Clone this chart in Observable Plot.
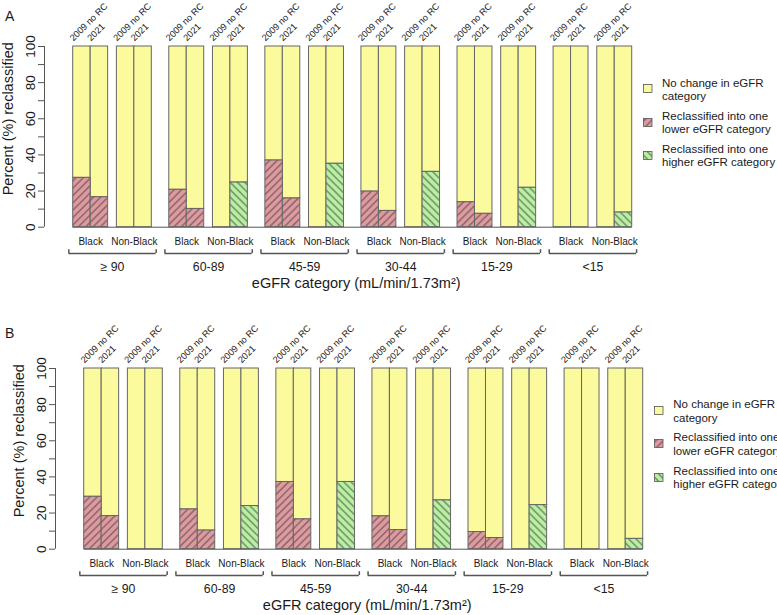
<!DOCTYPE html>
<html><head><meta charset="utf-8">
<script src="https://cdn.jsdelivr.net/npm/d3@7"></script>
<script src="https://cdn.jsdelivr.net/npm/@observablehq/plot@0.6"></script>
<style>
body{margin:0;background:#fff;}
#page{position:relative;width:777px;height:615px;overflow:hidden;background:#fff;font-family:"Liberation Sans",Arial,sans-serif;color:#1a1a1a;}
.panel{position:absolute;width:777px;height:300px;}
.panel svg.chart{position:absolute;left:0;top:0;}
.letter{position:absolute;font-size:14px;line-height:14px;}
.lg-sw{position:absolute;}
.lg-tx{position:absolute;font-size:11.5px;line-height:13.3px;white-space:nowrap;color:#1a1a1a;}
</style></head><body>
<svg width="0" height="0" style="position:absolute;left:0;top:0">
  <defs>
    <pattern id="hatchLower" patternUnits="userSpaceOnUse" width="5.2" height="5.2" patternTransform="rotate(45)">
      <rect width="5.2" height="5.2" fill="#df9aa0"/>
      <line x1="2.6" y1="-1" x2="2.6" y2="6.2" stroke="#3a3a3a" stroke-width="0.8"/>
    </pattern>
    <pattern id="hatchHigher" patternUnits="userSpaceOnUse" width="5.2" height="5.2" patternTransform="rotate(-45)">
      <rect width="5.2" height="5.2" fill="#b8f0a2"/>
      <line x1="2.6" y1="-1" x2="2.6" y2="6.2" stroke="#3a3a3a" stroke-width="0.8"/>
    </pattern>
  </defs>
</svg>
<div id="page"></div>
<script>
// ---------- data ----------
const categories = ["\u2265 90", "60-89", "45-59", "30-44", "15-29", "<15"];
const groups = ["Black", "Non-Black"];
const methods = ["2009 no RC", "2021"];
const yTickLabels = [0, 20, 40, 60, 80, 100];
const yTickMarks = [0, 10, 20, 30, 40, 50, 60, 70, 80, 90, 100];
const xTitle = "eGFR category (mL/min/1.73m\u00B2)";
const yTitle = "Percent (%) reclassified";
const legendLabels = [
  "No change in eGFR<br>category",
  "Reclassified into one<br>lower eGFR category",
  "Reclassified into one<br>higher eGFR category"
];
const panelLetters = ["A", "B"];

// Panel A: % reclassified (Black -> one lower category, Non-Black -> one higher category)
const A_blackLower2009    = [27.3, 20.7, 36.9, 19.7, 13.8, 0];
const A_blackLower2021    = [16.6, 10.1, 15.9,  9.0,  7.4, 0];
const A_nonBlackHigher2009 = [0, 0, 0, 0, 0, 0];
const A_nonBlackHigher2021 = [0, 24.7, 35.1, 30.6, 21.8, 8.1];

// Panel B
const B_blackLower2009    = [29.0, 22.0, 37.2, 18.2,  9.5, 0];
const B_blackLower2021    = [18.3, 10.3, 16.5, 10.6,  6.2, 0];
const B_nonBlackHigher2009 = [0, 0, 0, 0, 0, 0];
const B_nonBlackHigher2021 = [0, 23.9, 37.2, 27.0, 24.4, 5.7];

// ---------- layout ----------
const W = 777, H = 300;
const zeroY = 226.7, unitY = 1.807;          // px per percent
const yTop = 120;
const frameLeft = 44, frameRight = 631.7;
const catPeriod = 5.5, pairOffset = 2.5;     // in bar-width units
const lastEdge = 1 + (categories.length - 1) * catPeriod + pairOffset + 2; // 33
const xDomainMin = 1 - (72.7 - frameLeft) / ((frameRight - 72.7) / (lastEdge - 1));

const yellow = "#fbfb9e", border = "#666";
const slotStart = (ci, gi, mi) => 1 + ci * catPeriod + gi * pairOffset + mi;

function buildRows(l09, l21, h09, h21) {
  const rows = [];
  categories.forEach((cat, ci) => {
    groups.forEach((grp, gi) => {
      methods.forEach((m, mi) => {
        const src = gi === 0 ? [l09, l21] : [h09, h21];
        const s = slotStart(ci, gi, mi);
        rows.push({cat, grp, method: m, kind: gi === 0 ? "lower" : "higher", value: src[mi][ci], x1: s, x2: s + 1});
      });
    });
  });
  return rows;
}

function makePanel(rows, left, top, letter, letterTop) {
  const groupRows = [];
  const catRows = [];
  const ends = [];
  categories.forEach((cat, ci) => {
    groups.forEach((grp, gi) => groupRows.push({grp, x: slotStart(ci, gi, 0) + 1}));
    const s = slotStart(ci, 0, 0), e = slotStart(ci, 1, 1) + 1;
    catRows.push({cat, x: (s + e) / 2, xa: s - 0.25, xb: e + 0.25});
    ends.push({x: s - 0.25}, {x: e + 0.25});
  });
  const lowerRows = rows.filter(r => r.kind === "lower" && r.value > 0);
  const higherRows = rows.filter(r => r.kind === "higher" && r.value > 0);
  const font = "Liberation Sans, Arial, sans-serif";

  const svg = Plot.plot({
    width: W, height: H,
    marginLeft: frameLeft, marginRight: W - frameRight,
    marginTop: zeroY - yTop * unitY, marginBottom: H - zeroY,
    x: {domain: [xDomainMin, lastEdge], axis: null},
    y: {domain: [0, yTop]},
    style: {fontFamily: font, background: "transparent", overflow: "visible", color: "#1a1a1a"},
    marks: [
      // y axis
      Plot.axisY({ticks: yTickMarks, tickSize: 6, tickFormat: () => "", label: null, stroke: "#555"}),
      Plot.ruleX([xDomainMin], {y1: 0, y2: 100, stroke: "#555"}),
      Plot.text(yTickLabels, {y: d => d, text: d => String(d), frameAnchor: "left", textAnchor: "middle", dx: -14, rotate: -90, fontSize: 13.5, fill: "#1a1a1a"}),
      Plot.text([yTitle], {text: d => d, frameAnchor: "left", textAnchor: "middle", dx: -36, rotate: -90, fontSize: 14.5, fill: "#1a1a1a"}),
      // bars
      Plot.rect(rows, {x1: "x1", x2: "x2", y1: "value", y2: 100, fill: yellow, stroke: border, strokeWidth: 1}),
      Plot.rect(lowerRows, {x1: "x1", x2: "x2", y1: 0, y2: "value", fill: "url(#hatchLower)", stroke: border, strokeWidth: 1}),
      Plot.rect(higherRows, {x1: "x1", x2: "x2", y1: 0, y2: "value", fill: "url(#hatchHigher)", stroke: border, strokeWidth: 1}),
      Plot.ruleY([0], {x1: 1, x2: lastEdge, stroke: "#555"}),
      // rotated method labels
      Plot.text(rows, {x: d => d.x1 + 0.5, y: 100, text: "method", rotate: -45, textAnchor: "start", lineAnchor: "bottom", dx: -8.5, dy: -5, fontSize: 9.2, fill: "#1a1a1a"}),
      // group labels
      Plot.text(groupRows, {x: "x", y: 0, text: "grp", dy: 14.3, fontSize: 10, fill: "#1a1a1a"}),
      // brackets
      Plot.ruleY(catRows, {x1: "xa", x2: "xb", y: 0, dy: 26.3, stroke: "#555", strokeWidth: 1.5}),
      Plot.ruleX(ends, {x: "x", y1: 0, y2: 0, insetTop: 0, insetBottom: 3.8, dy: 26.3, stroke: "#555", strokeWidth: 1.5}),
      // category labels
      Plot.text(catRows, {x: "x", y: 0, text: "cat", dy: 40.3, fontSize: 12.3, fill: "#1a1a1a"}),
      // x title
      Plot.text([xTitle], {x: (1 + lastEdge) / 2 + 0.2, y: 0, text: d => d, dy: 56.3, fontSize: 14.5, fill: "#1a1a1a"})
    ]
  });
  svg.classList.add("chart");

  const wrap = document.createElement("div");
  wrap.className = "panel";
  wrap.style.left = left + "px";
  wrap.style.top = top + "px";
  wrap.appendChild(svg);

  const swFills = [yellow, "url(#hatchLower)", "url(#hatchHigher)"];
  legendLabels.forEach((lab, i) => {
    const sw = document.createElementNS("http://www.w3.org/2000/svg", "svg");
    sw.setAttribute("class", "lg-sw");
    sw.setAttribute("width", 10); sw.setAttribute("height", 10);
    sw.style.left = "643px"; sw.style.top = (84.3 + i * 33.35) + "px";
    const r = document.createElementNS("http://www.w3.org/2000/svg", "rect");
    r.setAttribute("x", 0.5); r.setAttribute("y", 0.5); r.setAttribute("width", 8.5); r.setAttribute("height", 8);
    r.setAttribute("fill", swFills[i]); r.setAttribute("stroke", "#555"); r.setAttribute("stroke-width", 0.8);
    sw.appendChild(r);
    wrap.appendChild(sw);
    const t = document.createElement("div");
    t.className = "lg-tx";
    t.innerHTML = lab;
    t.style.left = "662px"; t.style.top = (76.6 + i * 33.1) + "px";
    wrap.appendChild(t);
  });

  const page = document.getElementById("page");
  page.appendChild(wrap);
  const L = document.createElement("div");
  L.className = "letter";
  L.textContent = letter;
  L.style.left = "5px"; L.style.top = letterTop + "px";
  page.appendChild(L);
}

makePanel(buildRows(A_blackLower2009, A_blackLower2021, A_nonBlackHigher2009, A_nonBlackHigher2021), 0, 0, panelLetters[0], 9);
makePanel(buildRows(B_blackLower2009, B_blackLower2021, B_nonBlackHigher2009, B_nonBlackHigher2021), 11.3, 321.8, panelLetters[1], 326);
</script>
</body></html>
